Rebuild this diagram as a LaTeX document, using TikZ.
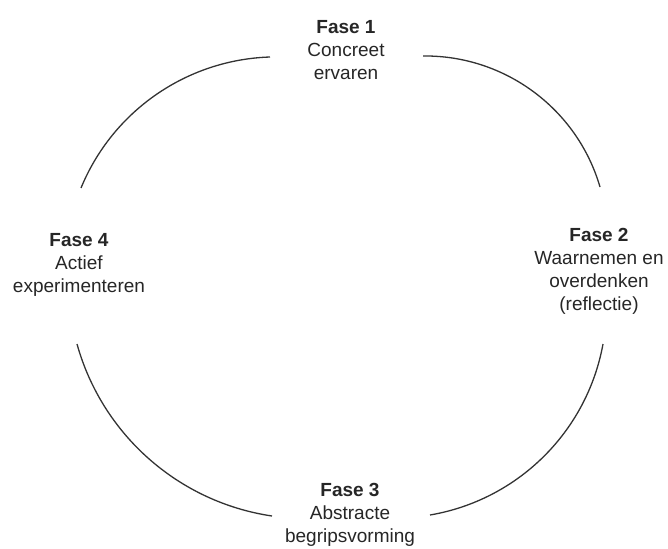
\documentclass[tikz,border=0pt]{standalone}
\usepackage{fontspec}
\setmainfont{Liberation Sans}
\begin{document}
\begin{tikzpicture}[x=1pt,y=-1pt,
  phase/.style={align=center,inner sep=0pt,anchor=north,text=black!85,
    font=\fontsize{19}{23}\selectfont},
  arcline/.style={draw=black!80,line width=1.3pt}]
\useasboundingbox (0,0) rectangle (668,548);
\node[phase] (f1) at (346,20) {\textbf{Fase 1}\\Concreet\\ervaren};
\node[phase] (f2) at (599,228) {\textbf{Fase 2}\\Waarnemen en\\overdenken\\(reflectie)};
\node[phase] (f3) at (350,483) {\textbf{Fase 3}\\Abstracte\\begripsvorming};
\node[phase] (f4) at (79,233) {\textbf{Fase 4}\\Actief\\experimenteren};
% arc end points
\coordinate (a1s) at (81,188);  \coordinate (a1e) at (270,57);
\coordinate (a2s) at (423,56);  \coordinate (a2e) at (600,187);
\coordinate (a3s) at (603,344); \coordinate (a3e) at (430,515);
\coordinate (a4s) at (77,344);  \coordinate (a4e) at (272,516);
\draw[arcline] (a1s) .. controls (112.7,110.9) and (186.7,59.7) .. (a1e);
\draw[arcline] (a2s) .. controls (504.6,55) and (577.2,108.7) .. (a2e);
\draw[arcline] (a3s) .. controls (587,431.7) and (517.9,500) .. (a3e);
\draw[arcline] (a4s) .. controls (102.3,434.8) and (178.7,502.2) .. (a4e);
\end{tikzpicture}
\end{document}
